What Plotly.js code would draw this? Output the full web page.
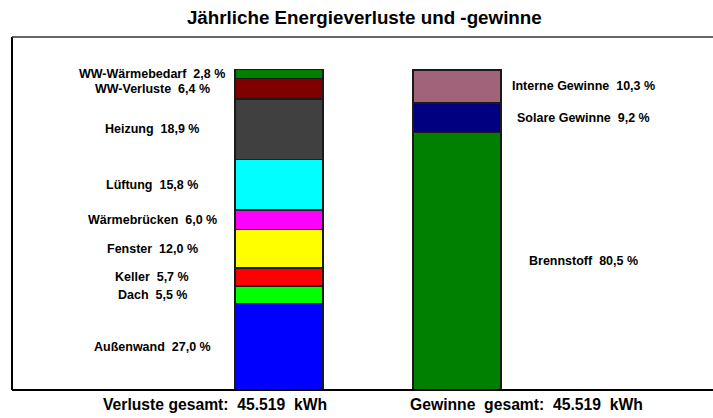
<!DOCTYPE html>
<html>
<head>
<meta charset="utf-8">
<script src="https://cdn.plot.ly/plotly-3.0.1.min.js"></script>
<style>html,body{margin:0;padding:0;background:#fff;}#chart{width:713px;height:418px;}</style>
</head>
<body>
<div id="chart"></div>
<script>
// Data (bottom to top)
const lossNames = ["Außenwand", "Dach", "Keller", "Fenster", "Wärmebrücken", "Lüftung", "Heizung", "WW-Verluste", "WW-Wärmebedarf"];
const lossValues = [27.0, 5.5, 5.7, 12.0, 6.0, 15.8, 18.9, 6.4, 2.8];
const lossColors = ["#0000FF", "#00FF00", "#FF0000", "#FFFF00", "#FF00FF", "#00FFFF", "#404040", "#800000", "#008000"];

const gainNames = ["Brennstoff", "Solare Gewinne", "Interne Gewinne"];
const gainValues = [80.5, 9.2, 10.3];
const gainColors = ["#008000", "#000080", "#A06379"];

const totalLabels = ["Verluste gesamt:  45.519  kWh", "Gewinne  gesamt:  45.519  kWh"];
const title = "Jährliche Energieverluste und -gewinne";

const FONT = "Liberation Sans, Arial, sans-serif";
const fmt = v => v.toFixed(1).replace(".", ",");

const traces = [];
const annotations = [];

function addStack(names, values, colors, xpos, labelX) {
  let cum = 0;
  names.forEach((n, i) => {
    traces.push({
      type: "bar", x: [xpos], y: [values[i]], width: 0.494,
      marker: {color: colors[i], line: {color: "#1a1a1a", width: 1.6}},
      name: n, hoverinfo: "name+y", showlegend: false
    });
    annotations.push({
      x: labelX, y: cum + values[i] / 2, xref: "x", yref: "y",
      text: "<b>" + n + "  " + fmt(values[i]) + " %</b>",
      showarrow: false, xanchor: "center", yanchor: "middle",
      font: {family: FONT, size: 12.5, color: "#000"}
    });
    cum += values[i];
  });
}
addStack(lossNames, lossValues, lossColors, 0, -0.713);
addStack(gainNames, gainValues, gainColors, 1, 1.713);

annotations.push({x: -0.36, y: 0, xref: "x", yref: "y", yanchor: "top", yshift: -4,
  text: "<b>" + totalLabels[0] + "</b>", showarrow: false,
  font: {family: FONT, size: 15.7, color: "#000"}});
annotations.push({x: 1.388, y: 0, xref: "x", yref: "y", yanchor: "top", yshift: -4,
  text: "<b>" + totalLabels[1] + "</b>", showarrow: false,
  font: {family: FONT, size: 15.7, color: "#000"}});

const layout = {
  width: 713, height: 418,
  margin: {l: 12, r: 0, t: 37, b: 28},
  paper_bgcolor: "#fff", plot_bgcolor: "#fff",
  barmode: "stack", bargap: 0,
  title: {text: "<b>" + title + "</b>", x: 0.511, xanchor: "center", y: 0.958, yanchor: "middle", yref: "container",
    font: {family: FONT, size: 18.8, color: "#000"}},
  xaxis: {range: [-1.5, 2.438], showgrid: false, zeroline: false, showticklabels: false, ticks: "", fixedrange: true},
  yaxis: {range: [0, 110.3], showgrid: false, zeroline: false, showticklabels: false, ticks: "", fixedrange: true},
  annotations: annotations,
  shapes: [
    {type: "line", xref: "paper", yref: "paper", x0: 0, x1: 0, y0: 0, y1: 1, line: {color: "#000", width: 2}},
    {type: "line", xref: "paper", yref: "paper", x0: 0, x1: 1, y0: 0, y1: 0, line: {color: "#000", width: 2}},
    {type: "line", xref: "paper", yref: "paper", x0: 0, x1: 1, y0: 1, y1: 1, line: {color: "#333", width: 1.5}}
  ]
};

Plotly.newPlot("chart", traces, layout, {displayModeBar: false, staticPlot: true});
</script>
</body>
</html>
